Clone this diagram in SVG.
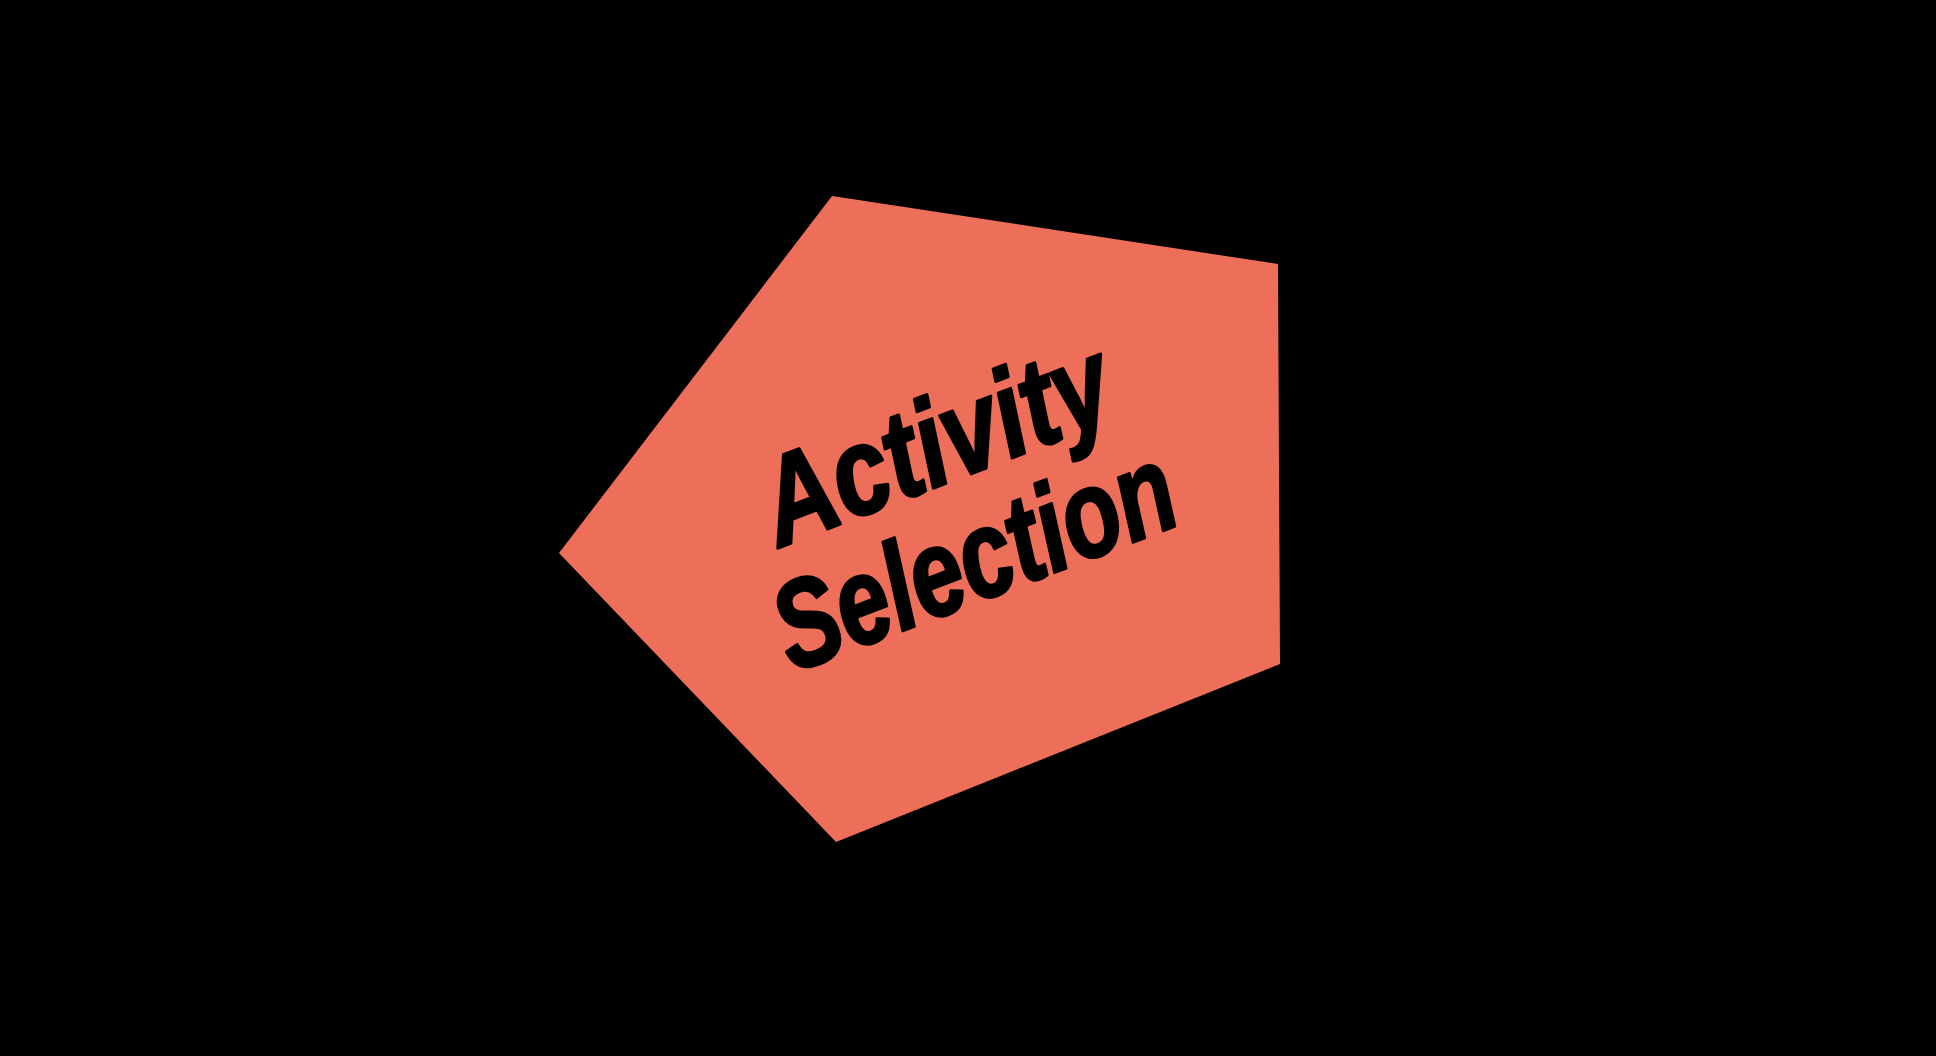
<svg xmlns="http://www.w3.org/2000/svg" width="1936" height="1056" viewBox="0 0 1936 1056">
<style>
.shape{fill:#ED6E59;stroke:none}
.label{font-family:"Liberation Sans",Arial,sans-serif;font-weight:bold;font-style:italic;font-size:124px;fill:#000;stroke:#000;stroke-width:3;stroke-linejoin:round;text-anchor:middle}
</style>
<rect x="0" y="0" width="1936" height="1056" fill="#000"/>
<g id="connectors"></g>
<g id="activity-selection">
<polygon class="shape" points="832,196 1278,264 1280,664 836,842 559,553"/>
<g transform="translate(950,482) rotate(-21)">
<text class="label" x="0" y="0" textLength="365" lengthAdjust="spacingAndGlyphs">Activity</text>
<text class="label" x="-5" y="122" textLength="420" lengthAdjust="spacingAndGlyphs">Selection</text>
</g>
</g>
</svg>
